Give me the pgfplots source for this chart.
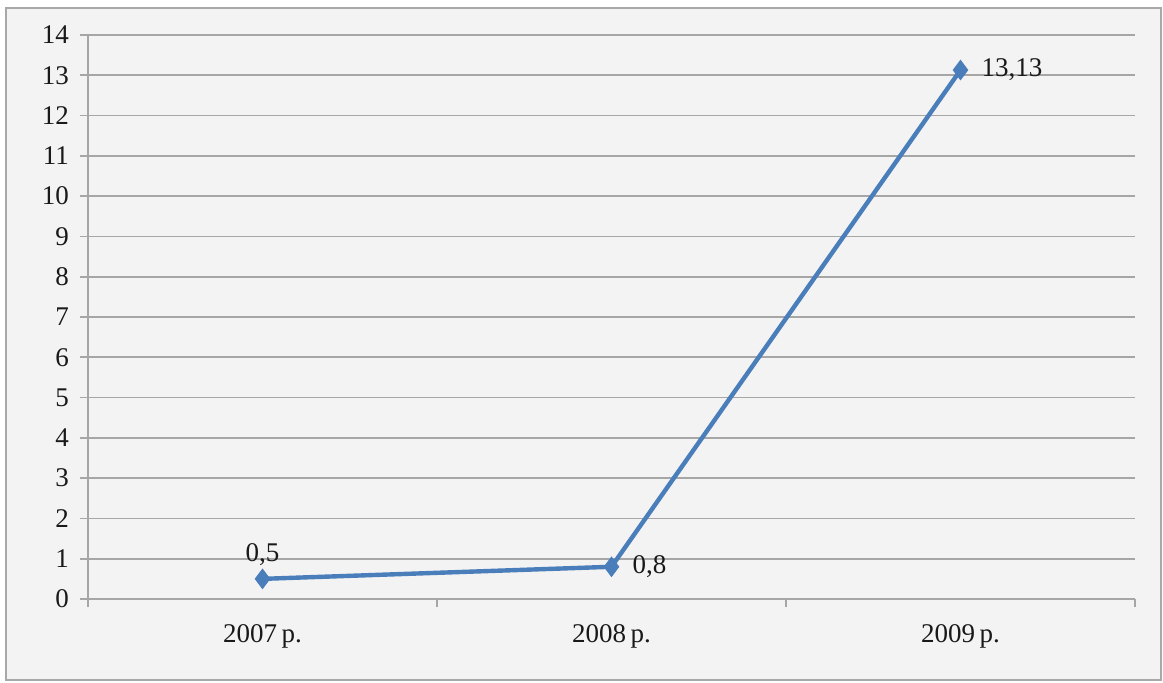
\documentclass[border=0pt]{standalone}
\usepackage{fontspec}
\setmainfont{Liberation Serif}
\usepackage{pgfplots}
\pgfplotsset{compat=1.18}
\definecolor{bgc}{HTML}{F3F3F3}
\definecolor{framec}{HTML}{A8A8A8}
\definecolor{gridc}{HTML}{A6A6A6}
\definecolor{linec}{HTML}{4A7EBB}
\begin{document}
\begin{tikzpicture}
\useasboundingbox (0,0) rectangle (581.5pt,341pt);
\fill[bgc] (3pt,1pt) rectangle (580.5pt,337pt);
\draw[framec, line width=0.8pt] (3pt,1pt) rectangle (580.5pt,337pt);
\begin{axis}[
    at={(44pt,41.5pt)}, anchor=south west,
    scale only axis,
    width=523.5pt, height=282pt,
    xmin=-0.5, xmax=2.5,
    ymin=0, ymax=14,
    ytick={0,1,...,14},
    xtick={-0.5,0.5,1.5,2.5},
    x tick label as interval,
    xticklabels={2007\,р., 2008\,р., 2009\,р.},
    axis x line*=bottom, axis y line*=left,
    axis line style={gridc, line width=0.8pt},
    ymajorgrids,
    grid style={gridc, line width=0.8pt},
    major tick style={gridc, line width=0.8pt},
    tick align=outside,
    major tick length=4pt,
    ticklabel style={font=\fontsize{13.5}{15}\selectfont, text=black!90},
    yticklabel style={xshift=-2pt},
    xticklabel style={yshift=-5pt},
    /pgf/number format/assume math mode=true,
    /pgf/number format/use comma,
    clip=false,
]
\addplot[linec, line width=2.2pt, mark=diamond*, mark size=4.8pt,
    mark options={fill=linec, draw=linec, line width=0.5pt}]
    coordinates {(0,0.5) (1,0.8) (2,13.13)};
\addplot[draw=none, nodes near coords, point meta=y,
    every node near coord/.append style={anchor=south, yshift=3pt,
      font=\fontsize{13.5}{15}\selectfont, text=black!90}]
    coordinates {(0,0.5)};
\addplot[draw=none, nodes near coords, point meta=y,
    every node near coord/.append style={anchor=west, xshift=7pt,
      font=\fontsize{13.5}{15}\selectfont, text=black!90}]
    coordinates {(1,0.8)};
\addplot[draw=none, nodes near coords, point meta=y,
    nodes near coords={\pgfmathprintnumber[fixed,precision=2,use comma]{\pgfplotspointmeta}},
    every node near coord/.append style={anchor=west, xshift=7pt,
      font=\fontsize{13.5}{15}\selectfont, text=black!90}]
    coordinates {(2,13.13)};
\end{axis}
\end{tikzpicture}
\end{document}
